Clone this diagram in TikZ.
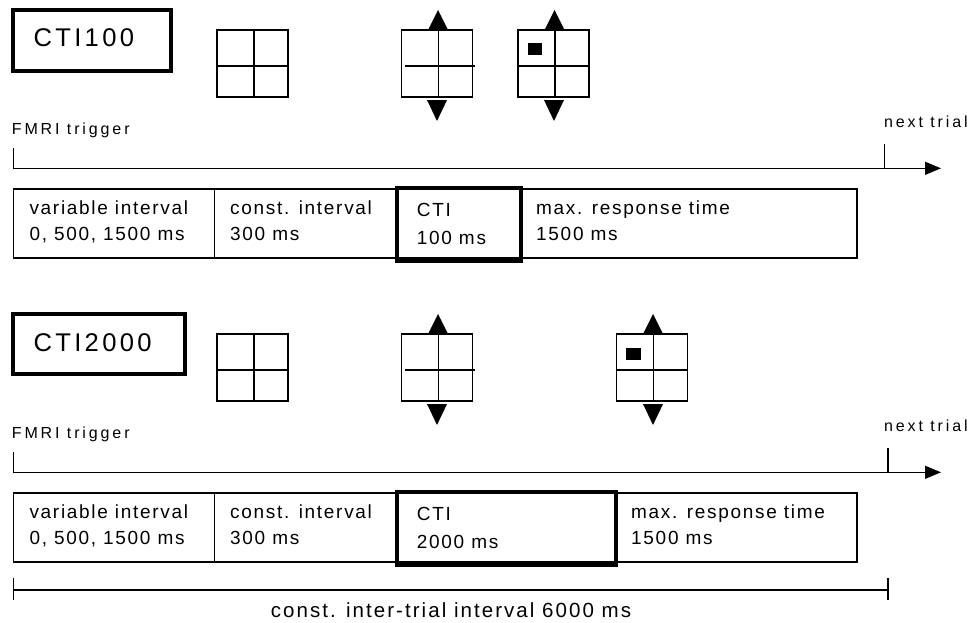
\documentclass[tikz,border=0pt]{standalone}
\usepackage{fontspec}
\setmainfont{Liberation Sans}
\newfontfamily\fcellfont[LetterSpace=9]{Liberation Sans}
\newfontfamily\flabfont[LetterSpace=18]{Liberation Sans}
\newfontfamily\ftitfont[LetterSpace=13]{Liberation Sans}
\newfontfamily\fitifont[LetterSpace=10]{Liberation Sans}
\usetikzlibrary{arrows.meta}
\tikzset{
  thinln/.style={line width=1.3pt},
  gridln/.style={line width=1.4pt},
  thickln/.style={line width=4pt},
  celltxt/.style={anchor=base west, inner sep=0pt, font=\fcellfont\fontsize{19}{19}\selectfont},
  labtxt/.style={anchor=base west, inner sep=0pt, font=\flabfont\fontsize{16}{16}\selectfont},
  tittxt/.style={anchor=base west, inner sep=0pt, font=\ftitfont\fontsize{25.6}{25.6}\selectfont},
  ititxt/.style={anchor=base, inner sep=0pt, font=\fitifont\fontsize{20.5}{20.5}\selectfont},
  stimgrid/.pic={
    \draw[gridln] (0,0) rectangle (71,67);
    \draw[gridln] (37,0) -- (37,67);
    \draw[gridln] (0,36) -- (71,36);
  },
  stimgridb/.pic={
    \draw[gridln] (0,0) rectangle (71,67);
    \draw[gridln] (37,0) -- (37,67);
    \draw[gridln] (3,36) -- (73,36);
  },
  uptri/.pic={\fill (0,-20) -- (10,0) -- (-10,0) -- cycle;},
  downtri/.pic={\fill (-10,0) -- (10,0) -- (0,21) -- cycle;},
}
\begin{document}
\begin{tikzpicture}[x=1pt,y=-1pt]
\useasboundingbox (0,0) rectangle (972,622);
% ================= CTI100 =================
\draw[thickln] (13.3,10) rectangle (170.7,70.7);
\node[tittxt] (t1) at (33.3,46.7) {CTI100};
\pic (g11) at (217,30) {stimgrid};
\pic (g12) at (401.5,30) {stimgridb};
\pic (g13) at (518,30) {stimgrid};
\fill (527.5,43) rectangle (541.5,55);
\pic at (438,30) {uptri};
\pic at (437,100) {downtri};
\pic at (554.5,30) {uptri};
\pic at (554,100) {downtri};
\node[labtxt] (fmri1) at (11.7,134) {FMRI trigger};
\node[labtxt] (next1) at (884,127) {next trial};
\coordinate (a1s) at (13.3,168.3);
\coordinate (a1e) at (941,168.3);
\coordinate (a1t) at (13.3,148);
\coordinate (n1t) at (884.3,144);
\coordinate (n1b) at (884.3,168.3);
\draw[thinln] (a1t) -- (a1s);
\draw[thinln] (n1t) -- (n1b);
\draw[thinln,-{Triangle[length=16pt,width=13pt]}] (a1s) -- (a1e);
\draw[thinln] (13.3,189) rectangle (857,258);
\draw[thinln] (214.3,189) -- (214.3,258);
\draw[thickln] (397,187.5) rectangle (520.7,260.5);
\node[celltxt] (c11a) at (29.3,214) {variable interval};
\node[celltxt] (c11b) at (29.3,240.7) {0, 500, 1500 ms};
\node[celltxt] (c12a) at (230,214) {const. interval};
\node[celltxt] (c12b) at (230,240.7) {300 ms};
\node[celltxt] (c13a) at (416.7,216.7) {CTI};
\node[celltxt] (c13b) at (416.7,244) {100 ms};
\node[celltxt] (c14a) at (536,214) {max. response time};
\node[celltxt] (c14b) at (536,240.7) {1500 ms};
% ================= CTI2000 =================
\draw[thickln] (13.3,314) rectangle (185,374);
\node[tittxt] (t2) at (33.3,351) {CTI2000};
\pic (g21) at (217,334) {stimgrid};
\pic (g22) at (401.5,334) {stimgridb};
\pic (g23) at (616.5,334) {stimgrid};
\fill (626,348) rectangle (640.5,360);
\pic at (438,334) {uptri};
\pic at (437,404) {downtri};
\pic at (653,334) {uptri};
\pic at (653,404) {downtri};
\node[labtxt] (fmri2) at (11.7,438) {FMRI trigger};
\node[labtxt] (next2) at (884,431) {next trial};
\coordinate (a2s) at (13.3,472.3);
\coordinate (a2e) at (941,472.3);
\coordinate (a2t) at (13.3,452);
\coordinate (n2t) at (888,448);
\coordinate (n2b) at (888,472.3);
\draw[thinln] (a2t) -- (a2s);
\draw[thinln] (n2t) -- (n2b);
\draw[thinln,-{Triangle[length=16pt,width=13pt]}] (a2s) -- (a2e);
\draw[thinln] (13.3,493) rectangle (857,562);
\draw[thinln] (214.3,493) -- (214.3,562);
\draw[thickln] (397,491.5) rectangle (615.6,564.5);
\node[celltxt] (c21a) at (29.3,518) {variable interval};
\node[celltxt] (c21b) at (29.3,544.7) {0, 500, 1500 ms};
\node[celltxt] (c22a) at (230,518) {const. interval};
\node[celltxt] (c22b) at (230,544.7) {300 ms};
\node[celltxt] (c23a) at (416.7,520.7) {CTI};
\node[celltxt] (c23b) at (416.7,548) {2000 ms};
\node[celltxt] (c24a) at (631,518) {max. response time};
\node[celltxt] (c24b) at (631,544.7) {1500 ms};
% ================= ITI bracket =================
\coordinate (b1t) at (13.3,578);
\coordinate (b1b) at (13.3,600);
\coordinate (b2t) at (888,578);
\coordinate (b2b) at (888,600);
\coordinate (bl) at (13.3,590);
\coordinate (br) at (888,590);
\draw[thinln] (b1t) -- (b1b);
\draw[thinln] (b2t) -- (b2b);
\draw[thinln] (bl) -- (br);
\node[ititxt] (iti) at (451,617) {const. inter-trial interval 6000 ms};
\end{tikzpicture}
\end{document}
